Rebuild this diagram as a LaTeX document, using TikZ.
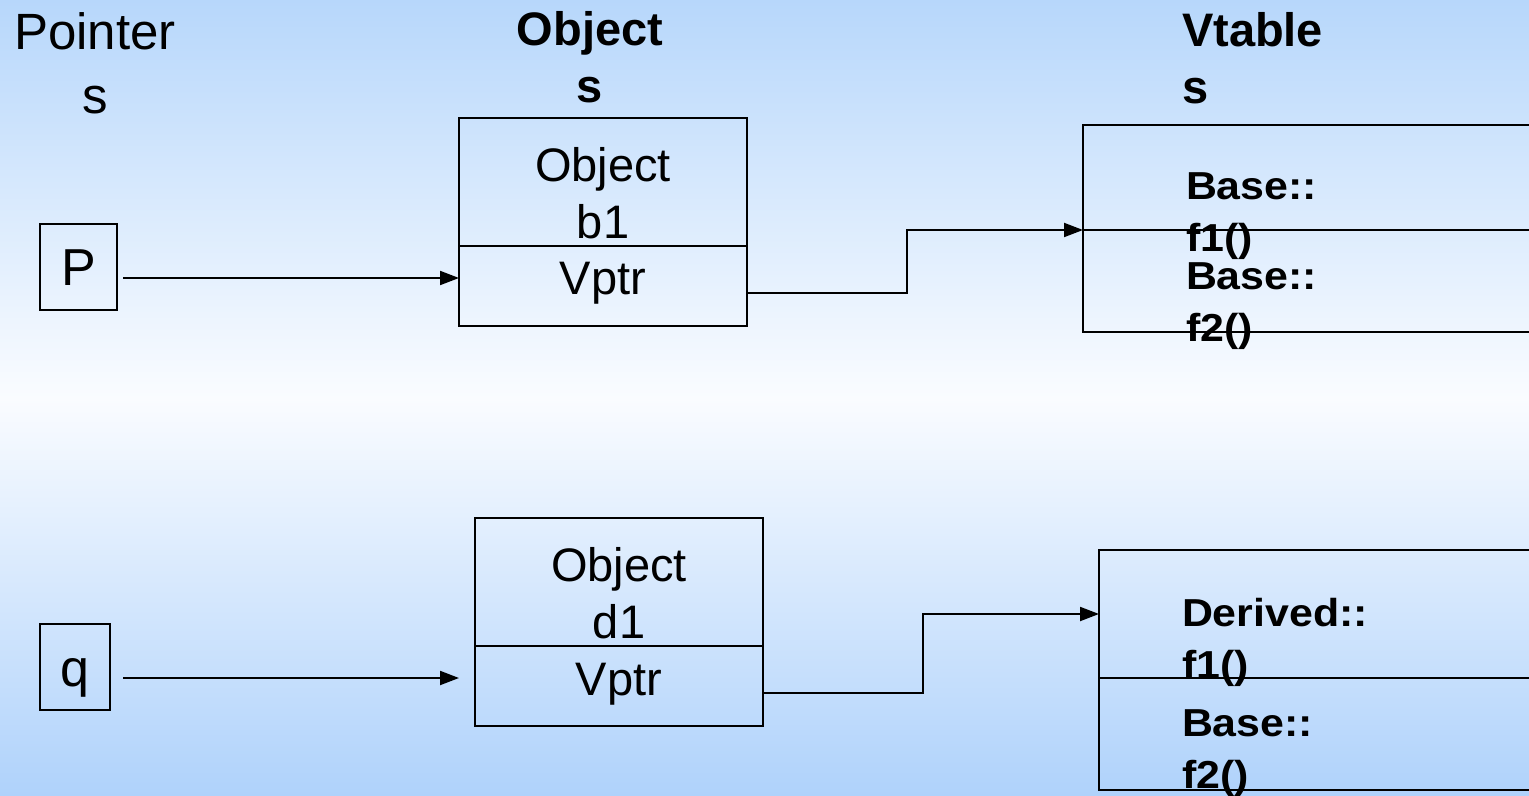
\documentclass[tikz,border=0pt]{standalone}
\usepackage{fontspec}
\setmainfont{Liberation Sans}
\newfontfamily\slotfont[FakeStretch=1.1]{Liberation Sans}
\usetikzlibrary{arrows.meta}
\definecolor{skytop}{HTML}{B7D7FB}
\definecolor{skymid}{HTML}{FAFCFF}
\definecolor{skybot}{HTML}{AFD2FB}
\begin{document}
\begin{tikzpicture}[x=0.5pt,y=-0.5pt,
  box/.style={draw=black, line width=1pt, inner sep=0pt, outer sep=0pt, anchor=north west},
  txt/.style={inner sep=0pt, outer sep=0pt, text=black},
  head/.style={txt, font=\bfseries\fontsize{23.5pt}{28.5pt}\selectfont},
  ptrbox/.style={box, minimum height=43pt, text height=19pt, text depth=0pt,
                 font=\fontsize{26pt}{30pt}\selectfont},
  objbox/.style={box, minimum width=144pt, minimum height=64pt},
  vptrbox/.style={box, minimum width=144pt, minimum height=40pt, text height=9pt,
                  text depth=0pt, font=\fontsize{23.5pt}{28pt}\selectfont},
  objname/.style={txt, align=center, anchor=north, font=\fontsize{23.5pt}{28.5pt}\selectfont},
  slot/.style={txt, align=left, anchor=north west,
               font=\slotfont\bfseries\fontsize{19.5pt}{26pt}\selectfont},
  wire/.style={line width=1pt},
  arr/.style={wire, -{Triangle[length=9.5pt,width=7pt]}},
]
\useasboundingbox (0,0) rectangle (1529,796);
\shade[top color=skytop, bottom color=skybot, middle color=skymid] (0,0) rectangle (1529,796);

% column headings
\node[txt, align=center, anchor=north, font=\fontsize{25.5pt}{32pt}\selectfont] (hptr) at (95,13) {Pointer\\s};
\node[head, align=center, anchor=north] (hobj) at (590,11) {Object\\s};
\node[head, align=left, anchor=north west] (hvt) at (1182,12) {Vtable\\s};

% pointers
\node[ptrbox, minimum width=38.5pt] (P) at (40,224) {P};
\node[ptrbox, minimum width=35pt] (q) at (40,624) {q};

% object b1
\node[objbox] (b1) at (459,118) {};
\node[vptrbox] (b1vptr) at (459,246) {Vptr};
\node[objname] (b1name) at (b1.north |- 0,147) {Object\\b1};

% object d1
\node[objbox] (d1) at (475,518) {};
\node[vptrbox] (d1vptr) at (475,646) {Vptr};
\node[objname] (d1name) at (d1.north |- 0,547) {Object\\d1};

% vtables (they run past the right edge)
\begin{scope}
  \clip (0,0) rectangle (1529,796);
  \node[box, minimum width=240pt, minimum height=52.5pt] (vt1a) at (1083,125) {};
  \node[box, minimum width=240pt, minimum height=51pt] (vt1b) at (1083,230) {};
  \node[box, minimum width=232pt, minimum height=64pt] (vt2a) at (1099,550) {};
  \node[box, minimum width=232pt, minimum height=56pt] (vt2b) at (1099,678) {};
\end{scope}
\node[slot] (vt1s1) at (1186,173) {Base::\\f1()};
\node[slot] (vt1s2) at (1186,263) {Base::\\f2()};
\node[slot] (vt2s1) at (1182,598) {Derived::\\f1()};
\node[slot] (vt2s2) at (1182,710) {Base::\\f2()};

% pointer -> object
\draw[arr] ([shift={(6,11)}]P.east) -- ([shift={(0,-8)}]b1vptr.west);
\draw[arr] ([shift={(13,11)}]q.east) -- ([shift={(-16,-8)}]d1vptr.west);

% vptr -> vtable
\draw[arr] ([shift={(0,7)}]b1vptr.east) -- ++(160,0) |- (vt1a.south west);
\draw[arr] ([shift={(0,7)}]d1vptr.east) -- ++(160,0) |- (vt2a.west);
\end{tikzpicture}
\end{document}
